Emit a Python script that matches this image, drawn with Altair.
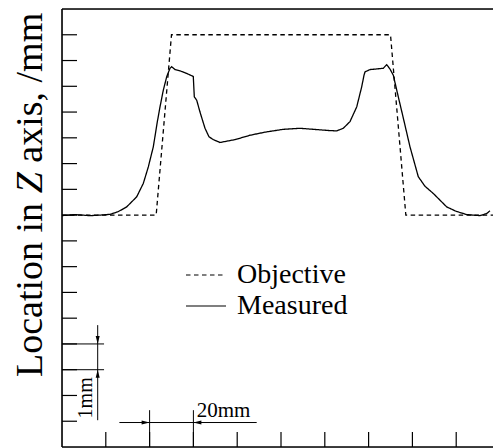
import altair as alt
import pandas as pd

# ---- data (mm) ----
meas_x = [0, 5.94, 12.79, 17.35, 21.92, 25.57, 29.54, 34.11, 37.12, 39.41, 41.69, 43.52,
          44.75, 46.26, 47.81, 49.32, 50.09, 51.6, 53.88, 56.94, 59.95, 60.41, 61.51, 63.01,
          65.30, 67.12, 69.09, 72.15, 79.0, 85.85, 92.7, 101.05, 108.68, 116.30, 122.4,
          125.43, 128.45, 131.5, 134.57, 136.85, 137.9, 138.36, 140.64, 143.4, 146.71,
          148.26, 149.77, 151.28, 153.56, 155.84, 158.9, 162.69, 165.75, 169.54, 175.66,
          179.9, 184.79, 190.87, 193.93, 195.43]
meas_y = [8.98, 9.02, 8.98, 9.00, 9.03, 9.13, 9.32, 9.71, 10.23, 10.87, 11.65, 12.62,
          13.20, 13.85, 14.37, 14.70, 14.76, 14.65, 14.60, 14.50, 14.38, 13.59, 13.46, 13.00,
          12.37, 12.04, 11.93, 11.82, 11.93, 12.10, 12.22, 12.33, 12.37, 12.32, 12.28,
          12.27, 12.37, 12.63, 13.20, 13.98, 14.43, 14.56, 14.65, 14.67, 14.70,
          14.84, 14.67, 14.43, 13.59, 12.77, 11.65, 10.49, 10.12, 9.84, 9.32,
          9.15, 9.02, 8.98, 9.06, 9.17]

XMAX = 196.8
obj_x = [0, 43, 50, 150, 157, XMAX]
obj_y = [9, 9, 16, 16, 9, 9]

series_names = ["Objective", "Measured"]
x_ticks = [20, 40, 60, 80, 100, 120, 140, 160, 180]
y_ticks = list(range(1, 17))

W, H = 431, 438
FONT = "Liberation Serif"
TICK = 15

df = pd.concat([
    pd.DataFrame({"x": obj_x, "y": obj_y, "series": "Objective", "o": range(len(obj_x))}),
    pd.DataFrame({"x": meas_x, "y": meas_y, "series": "Measured", "o": range(len(meas_x))}),
])

xs = alt.Scale(domain=[0, XMAX], nice=False, zero=False)
ys = alt.Scale(domain=[0, 17], nice=False, zero=False)

lines = alt.Chart(df).mark_line(color="black", strokeWidth=1.3).encode(
    x=alt.X("x:Q", scale=xs, axis=None),
    y=alt.Y("y:Q", scale=ys, axis=None),
    order="o:Q",
    strokeDash=alt.StrokeDash(
        "series:N",
        scale=alt.Scale(domain=series_names, range=[[4.5, 3.5], [1, 0]]),
        legend=alt.Legend(title=None, orient="none", legendX=130, legendY=252,
                          symbolType="M-4,0H4", symbolSize=100,
                          symbolStrokeColor="black", symbolStrokeWidth=1.2,
                          labelFont=FONT, labelFontSize=28, labelColor="black",
                          labelOffset=17, labelLimit=0, rowPadding=3, padding=0),
    ),
)

# inward ticks
yt = alt.Chart(pd.DataFrame({"y": y_ticks})).mark_rule(color="black", strokeWidth=1.2).encode(
    y=alt.Y("y:Q", scale=ys), x=alt.value(0), x2=alt.value(TICK))
xt = alt.Chart(pd.DataFrame({"x": x_ticks})).mark_rule(color="black", strokeWidth=1.2).encode(
    x=alt.X("x:Q", scale=xs), y=alt.value(H - TICK), y2=alt.value(H))

# frame (left, top, bottom)
frame_df = pd.DataFrame({"x": [0, 0, 0], "x2": [0, XMAX, XMAX], "y": [0, 17, 0], "y2": [17, 17, 0]})
frame = alt.Chart(frame_df).mark_rule(color="black", strokeWidth=1.6).encode(
    x="x:Q", x2="x2:Q", y="y:Q", y2="y2:Q")

# dimension annotations
ann_df = pd.DataFrame({
    "x":  [40, 60, 0, 0, 16.3, 26.2],
    "x2": [40, 60, 19.2, 19.2, 16.3, 88.9],
    "y":  [0, 0, 3, 4, 1.04, 0.95],
    "y2": [1.43, 1.43, 3, 4, 4.73, 0.95],
})
ann = alt.Chart(ann_df).mark_rule(color="black", strokeWidth=1).encode(
    x="x:Q", x2="x2:Q", y="y:Q", y2="y2:Q")

arrow_df = pd.DataFrame({
    "x": [16.3, 16.3, 40, 60],
    "y": [4, 3, 0.95, 0.95],
    "dir": ["down", "up", "right", "left"],
})
arrows = alt.Chart(arrow_df).mark_point(filled=True, color="black", size=64, opacity=1,
                                        strokeWidth=0).encode(
    x="x:Q", y="y:Q",
    shape=alt.Shape("dir:N", scale=alt.Scale(
        domain=["down", "up", "right", "left"],
        range=["M0,0L-0.5,-2L0.5,-2Z", "M0,0L-0.5,2L0.5,2Z",
               "M0,0L-2,-0.5L-2,0.5Z", "M0,0L2,-0.5L2,0.5Z"]), legend=None),
)

lbl20 = alt.Chart(pd.DataFrame({"x": [61.5], "y": [1.17], "t": ["20mm"]})).mark_text(
    font=FONT, fontSize=21, color="black", align="left", baseline="alphabetic").encode(
    x="x:Q", y="y:Q", text="t:N")
lbl1 = alt.Chart(pd.DataFrame({"x": [13.7], "y": [1.11], "t": ["1mm"]})).mark_text(
    font=FONT, fontSize=20, color="black", align="left", baseline="alphabetic",
    angle=270).encode(x="x:Q", y="y:Q", text="t:N")

# y-axis title with italic Z
title_df = pd.DataFrame({"t": ["Location in", "Z", "axis, /mm"]})
t1 = alt.Chart(title_df.iloc[[0]]).mark_text(font=FONT, fontSize=38, color="black", align="left",
                                             baseline="alphabetic", angle=270).encode(
    x=alt.value(-20), y=alt.value(368), text="t:N")
t2 = alt.Chart(title_df.iloc[[1]]).mark_text(font=FONT, fontSize=38, color="black", align="left",
                                             baseline="alphabetic", angle=270,
                                             fontStyle="italic").encode(
    x=alt.value(-20), y=alt.value(184.3), text="t:N")
t3 = alt.Chart(title_df.iloc[[2]]).mark_text(font=FONT, fontSize=38, color="black", align="left",
                                             baseline="alphabetic", angle=270).encode(
    x=alt.value(-20), y=alt.value(153.7), text="t:N")

chart = alt.layer(lines, yt, xt, frame, ann, arrows, lbl20, lbl1, t1, t2, t3).properties(
    width=W, height=H,
    autosize=alt.AutoSizeParams(type="none"),
    padding={"left": 62, "top": 9, "right": 0, "bottom": 1},
).configure_view(stroke=None).configure(background="white")

chart.save("out.html", embed_options={"renderer": "svg", "actions": False})
